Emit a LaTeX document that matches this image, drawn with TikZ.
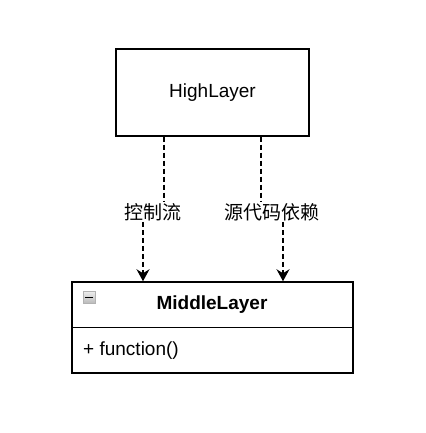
\documentclass[tikz,border=0pt]{standalone}
\usepackage{fontspec}
\setmainfont{Liberation Sans}
\newfontfamily\cjk{Noto Sans CJK SC}
\usetikzlibrary{arrows.meta,positioning}

\begin{document}
\begin{tikzpicture}[
  box/.style={draw,line width=1.5pt,rectangle,inner sep=0pt},
  dep/.style={line width=1.5pt,dash pattern=on 5pt off 3pt},
  arr/.style={-{Stealth[length=12pt,width=13pt,inset=4pt]}},
  lbl/.style={inner sep=1pt,font=\cjk\fontsize{19}{22}\selectfont}]
\useasboundingbox (0pt,0pt) rectangle (425pt,433pt);

% The two layers
\node[box,minimum width=193pt,minimum height=87pt,
      font=\fontsize{19}{22}\selectfont] (high) at (212.5pt,340.5pt) {HighLayer};
\node[box,minimum width=281pt,minimum height=91pt] (mid) at (212.5pt,105.5pt) {};
\draw[line width=1.5pt] (mid.west) -- (mid.east);
\node[font=\bfseries\fontsize{19}{22}\selectfont] (midname) at (212pt,128pt) {MiddleLayer};
\node[anchor=west,inner sep=0pt,font=\fontsize{19}{22}\selectfont] (func) at (83pt,82pt) {+ function()};

% Fold icon
\node[draw=gray!60,top color=gray!15,bottom color=gray!55,
      minimum size=12pt,inner sep=0pt] (fold) at (89pt,135.5pt) {};
\draw[line width=1.5pt] ([xshift=2pt]fold.west) -- ([xshift=-2pt]fold.east);

% Labels of the two dependencies
\node[lbl] (ctrl) at (153pt,221pt) {控制流};
\node[lbl] (src) at (272pt,221pt) {源代码依赖};

% Connectors, broken by the labels
\coordinate (ctrlTop) at ([xshift=-48.5pt]high.south);
\coordinate (ctrlBot) at ([xshift=-69.5pt]mid.north);
\coordinate (srcTop) at ([xshift=48.5pt]high.south);
\coordinate (srcBot) at ([xshift=70.5pt]mid.north);
\draw[dep] (ctrlTop) -- (ctrlTop |- ctrl.north);
\draw[dep,arr] (ctrlBot |- ctrl.south) -- (ctrlBot);
\draw[dep] (srcTop) -- (srcTop |- src.north);
\draw[dep,arr] (srcBot |- src.south) -- (srcBot);

\end{tikzpicture}
\end{document}
